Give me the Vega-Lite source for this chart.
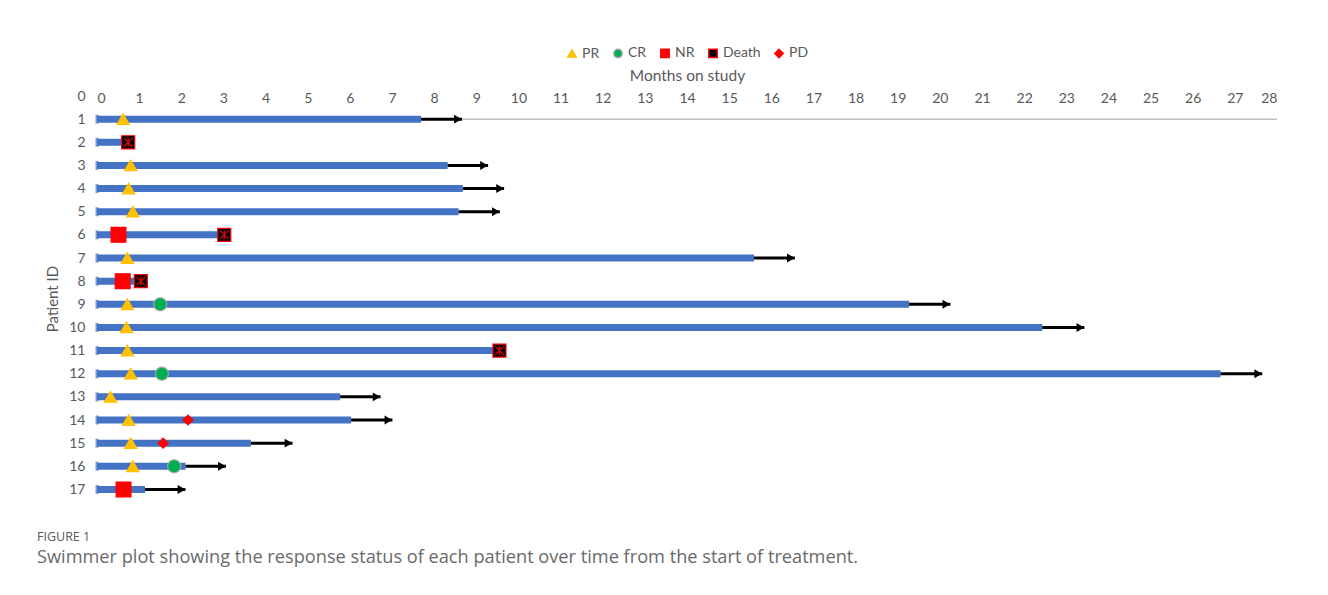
{
  "$schema": "https://vega.github.io/schema/vega-lite/v6.json",
  "autosize": {"type": "none"},
  "width": 1180,
  "height": 405,
  "padding": {"left": 97, "top": 96, "right": 51, "bottom": 94},
  "background": "white",
  "config": {
    "view": {"stroke": null},
    "font": "Lato",
    "axis": {"labelFont": "Lato", "titleFont": "Lato", "labelColor": "#595959", "titleColor": "#595959", "titleFontWeight": "normal", "labelOverlap": false},
    "legend": {"labelFont": "Lato"}
  },
  "title": {
    "text": "FIGURE 1",
    "subtitle": "Swimmer plot showing the response status of each patient over time from the start of treatment.",
    "orient": "bottom",
    "anchor": "start",
    "frame": "group",
    "dx": -60,
    "offset": 30,
    "font": "Open Sans",
    "fontSize": 12.5,
    "fontWeight": "normal",
    "color": "#5a5a5a",
    "subtitleFont": "Open Sans",
    "subtitleFontSize": 18.2,
    "subtitleColor": "#6a6a6a",
    "subtitlePadding": 5
  },
  "datasets": {
    "bars": [
      {"id": 1, "start": 0, "end": 7.69, "arrow": 8.66},
      {"id": 2, "start": 0, "end": 0.66, "arrow": null},
      {"id": 3, "start": 0, "end": 8.32, "arrow": 9.28},
      {"id": 4, "start": 0, "end": 8.68, "arrow": 9.66},
      {"id": 5, "start": 0, "end": 8.58, "arrow": 9.56},
      {"id": 6, "start": 0, "end": 3.0, "arrow": null},
      {"id": 7, "start": 0, "end": 15.59, "arrow": 16.56},
      {"id": 8, "start": 0, "end": 0.94, "arrow": null},
      {"id": 9, "start": 0, "end": 19.27, "arrow": 20.25},
      {"id": 10, "start": 0, "end": 22.43, "arrow": 23.43},
      {"id": 11, "start": 0, "end": 9.55, "arrow": null},
      {"id": 12, "start": 0, "end": 26.66, "arrow": 27.65},
      {"id": 13, "start": 0, "end": 5.77, "arrow": 6.73},
      {"id": 14, "start": 0, "end": 6.03, "arrow": 7.01},
      {"id": 15, "start": 0, "end": 3.65, "arrow": 4.64},
      {"id": 16, "start": 0, "end": 2.1, "arrow": 3.06},
      {"id": 17, "start": 0, "end": 1.14, "arrow": 2.1}
    ],
    "events": [
      {"id": 1, "t": 0.62, "event": "PR"},
      {"id": 2, "t": 0.74, "event": "Death"},
      {"id": 3, "t": 0.8, "event": "PR"},
      {"id": 4, "t": 0.75, "event": "PR"},
      {"id": 5, "t": 0.85, "event": "PR"},
      {"id": 6, "t": 0.51, "event": "NR"},
      {"id": 6, "t": 3.02, "event": "Death"},
      {"id": 7, "t": 0.72, "event": "PR"},
      {"id": 8, "t": 0.61, "event": "NR"},
      {"id": 8, "t": 1.04, "event": "Death"},
      {"id": 9, "t": 0.72, "event": "PR"},
      {"id": 9, "t": 1.5, "event": "CR"},
      {"id": 10, "t": 0.7, "event": "PR"},
      {"id": 11, "t": 0.72, "event": "PR"},
      {"id": 11, "t": 9.55, "event": "Death"},
      {"id": 12, "t": 0.8, "event": "PR"},
      {"id": 12, "t": 1.54, "event": "CR"},
      {"id": 13, "t": 0.32, "event": "PR"},
      {"id": 14, "t": 0.75, "event": "PR"},
      {"id": 14, "t": 2.16, "event": "PD"},
      {"id": 15, "t": 0.8, "event": "PR"},
      {"id": 15, "t": 1.57, "event": "PD"},
      {"id": 16, "t": 0.85, "event": "PR"},
      {"id": 16, "t": 1.83, "event": "CR"},
      {"id": 17, "t": 0.63, "event": "NR"}
    ],
    "axisline": [{"id": 1, "from": 0, "to": 28}]
  },
  "layer": [
    {
      "data": {"name": "axisline"},
      "mark": {"type": "rule", "color": "#BFBFBF", "strokeWidth": 1.5},
      "encoding": {
        "y": {
          "field": "id",
          "type": "quantitative",
          "scale": {"domain": [0, 17.5], "reverse": true, "nice": false, "zero": false},
          "axis": {
            "title": "Patient ID",
            "values": [0, 1, 2, 3, 4, 5, 6, 7, 8, 9, 10, 11, 12, 13, 14, 15, 16, 17],
            "tickCount": 30,
            "format": "d",
            "grid": false, "domain": false, "ticks": false, "labelOverlap": false,
            "labelPadding": 12, "labelFontSize": 14,
            "titleFontSize": 15, "titlePadding": 8
          }
        },
        "x": {
          "field": "from", "type": "quantitative",
          "scale": {"domain": [0, 28], "nice": false, "zero": false},
          "axis": {
            "orient": "top", "title": "Months on study",
            "values": [0, 1, 2, 3, 4, 5, 6, 7, 8, 9, 10, 11, 12, 13, 14, 15, 16, 17, 18, 19, 20, 21, 22, 23, 24, 25, 26, 27, 28],
            "tickCount": 40,
            "format": "d",
            "grid": false, "domain": false, "ticks": false, "labelOverlap": false,
            "labelBaseline": "middle", "labelPadding": 0, "offset": -2,
            "labelFontSize": 14, "titleFontSize": 15.5, "titlePadding": 8
          }
        },
        "x2": {"field": "to"}
      }
    },
    {
      "data": {"name": "bars"},
      "mark": {"type": "rule", "color": "#4472C4", "strokeWidth": 7, "strokeCap": "butt"},
      "encoding": {
        "y": {"field": "id", "type": "quantitative"},
        "x": {"field": "start", "type": "quantitative"},
        "x2": {"field": "end"}
      }
    },
    {
      "data": {"name": "bars"},
      "mark": {"type": "tick", "orient": "vertical", "color": "#4472C4", "thickness": 3, "size": 9},
      "encoding": {
        "y": {"field": "id", "type": "quantitative"},
        "x": {"field": "start", "type": "quantitative"}
      }
    },
    {
      "data": {"name": "bars"},
      "transform": [{"filter": "datum.arrow != null"}],
      "mark": {"type": "rule", "color": "#000000", "strokeWidth": 3, "strokeCap": "butt"},
      "encoding": {
        "y": {"field": "id", "type": "quantitative"},
        "x": {"field": "end", "type": "quantitative"},
        "x2": {"field": "arrow"}
      }
    },
    {
      "data": {"name": "bars"},
      "transform": [{"filter": "datum.arrow != null"}],
      "mark": {"type": "point", "shape": "triangle-right", "filled": true, "color": "#000000", "size": 80, "opacity": 1, "xOffset": -4},
      "encoding": {
        "y": {"field": "id", "type": "quantitative"},
        "x": {"field": "arrow", "type": "quantitative"}
      }
    },
    {
      "data": {"name": "events"},
      "mark": {"type": "point", "filled": true, "opacity": 1, "strokeWidth": 1.2},
      "encoding": {
        "y": {"field": "id", "type": "quantitative"},
        "x": {"field": "t", "type": "quantitative"},
        "shape": {
          "field": "event", "type": "nominal",
          "scale": {"domain": ["PR", "CR", "NR", "Death", "PD"], "range": ["triangle-up", "circle", "square", "square", "diamond"]},
          "legend": {
            "orient": "none", "legendX": 468, "legendY": -50, "direction": "horizontal", "title": null,
            "symbolSize": 70, "labelFontSize": 14, "labelColor": "#595959", "columnPadding": 10, "labelOffset": 3
          }
        },
        "fill": {
          "field": "event", "type": "nominal",
          "scale": {"domain": ["PR", "CR", "NR", "Death", "PD"], "range": ["#FFC000", "#00B050", "#FF0000", "#000000", "#FF0000"]}
        },
        "stroke": {
          "field": "event", "type": "nominal",
          "scale": {"domain": ["PR", "CR", "NR", "Death", "PD"], "range": ["#FFC000", "#A5A5A5", "#FF0000", "#FF0000", "#FF0000"]}
        },
        "size": {
          "condition": [
            {"test": "datum.event == 'NR'", "value": 220},
            {"test": "datum.event == 'CR'", "value": 170},
            {"test": "datum.event == 'Death'", "value": 170},
            {"test": "datum.event == 'PD'", "value": 100}
          ],
          "value": 150
        }
      }
    },
    {
      "data": {"name": "events"},
      "transform": [{"filter": "datum.event == 'Death'"}],
      "mark": {"type": "point", "shape": "M-0.8,-0.8L0.8,0.8M-0.8,0.8L0.8,-0.8M0,-0.9L0,0.9", "filled": false, "color": "#E00000", "size": 110, "strokeWidth": 1.3, "opacity": 1},
      "encoding": {
        "y": {"field": "id", "type": "quantitative"},
        "x": {"field": "t", "type": "quantitative"}
      }
    }
  ]
}
